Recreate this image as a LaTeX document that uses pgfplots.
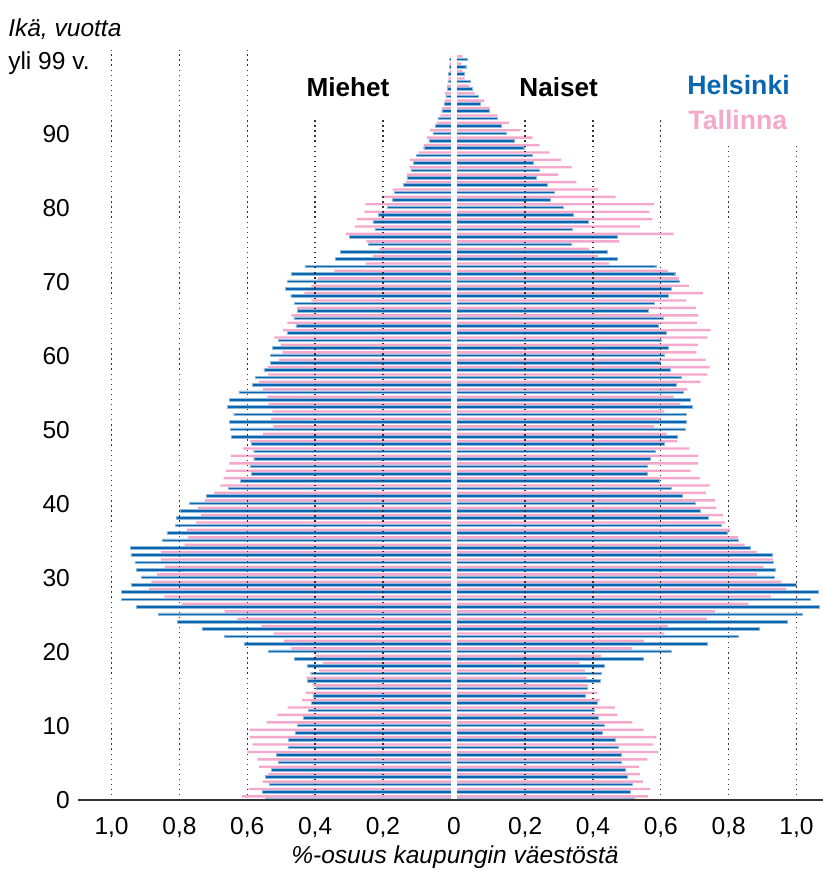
\documentclass[border=0pt]{standalone}
\usepackage{fontspec}
\setmainfont{Liberation Sans}
\usepackage{pgfplots}
\pgfplotsset{compat=1.18}
\usepackage{pgfplotstable}
\definecolor{hel}{HTML}{0A66B0}
\definecolor{tal}{HTML}{F4A8CB}
\definecolor{gridc}{HTML}{333333}

% Helsinki: m = men (left), f = women (right), % of city population
\pgfplotstableread{
age m f
0 0.546 0.522
1 0.557 0.509
2 0.535 0.515
3 0.546 0.501
4 0.530 0.495
5 0.509 0.482
6 0.515 0.482
7 0.480 0.474
8 0.478 0.465
9 0.458 0.427
10 0.453 0.432
11 0.435 0.416
12 0.421 0.404
13 0.411 0.412
14 0.407 0.377
15 0.398 0.383
16 0.423 0.421
17 0.413 0.424
18 0.424 0.432
19 0.461 0.547
20 0.537 0.630
21 0.610 0.736
22 0.667 0.827
23 0.734 0.889
24 0.806 0.972
25 0.863 1.018
26 0.927 1.068
27 0.972 1.041
28 0.972 1.065
29 0.942 1.000
30 0.913 0.934
31 0.927 0.938
32 0.931 0.932
33 0.943 0.927
34 0.944 0.864
35 0.852 0.829
36 0.837 0.797
37 0.813 0.778
38 0.810 0.740
39 0.799 0.717
40 0.770 0.701
41 0.722 0.663
42 0.656 0.630
43 0.620 0.595
44 0.588 0.560
45 0.592 0.561
46 0.581 0.570
47 0.581 0.584
48 0.589 0.611
49 0.646 0.648
50 0.650 0.671
51 0.652 0.675
52 0.640 0.675
53 0.659 0.692
54 0.653 0.686
55 0.625 0.667
56 0.585 0.645
57 0.576 0.661
58 0.551 0.627
59 0.533 0.599
60 0.531 0.610
61 0.527 0.621
62 0.509 0.600
63 0.482 0.615
64 0.457 0.592
65 0.463 0.606
66 0.453 0.564
67 0.461 0.580
68 0.472 0.621
69 0.488 0.630
70 0.482 0.653
71 0.470 0.641
72 0.430 0.585
73 0.340 0.472
74 0.325 0.442
75 0.243 0.336
76 0.299 0.472
77 0.224 0.339
78 0.230 0.386
79 0.213 0.343
80 0.187 0.312
81 0.172 0.275
82 0.167 0.285
83 0.141 0.264
84 0.130 0.234
85 0.118 0.243
86 0.111 0.225
87 0.102 0.222
88 0.080 0.196
89 0.065 0.169
90 0.053 0.144
91 0.045 0.129
92 0.038 0.119
93 0.027 0.093
94 0.020 0.069
95 0.015 0.061
96 0.011 0.045
97 0.009 0.038
98 0.007 0.020
99 0.004 0.025
100 0.004 0.030
}\heltab

% Tallinna
\pgfplotstableread{
age m f
0 0.615 0.562
1 0.596 0.568
2 0.554 0.547
3 0.538 0.538
4 0.565 0.535
5 0.570 0.560
6 0.600 0.592
7 0.584 0.577
8 0.593 0.587
9 0.593 0.549
10 0.543 0.516
11 0.511 0.472
12 0.481 0.465
13 0.438 0.420
14 0.428 0.413
15 0.407 0.386
16 0.425 0.381
17 0.389 0.377
18 0.378 0.360
19 0.400 0.424
20 0.470 0.515
21 0.492 0.550
22 0.522 0.610
23 0.558 0.621
24 0.629 0.736
25 0.667 0.759
26 0.793 0.858
27 0.844 0.924
28 0.890 0.969
29 0.883 0.955
30 0.866 0.883
31 0.843 0.902
32 0.855 0.930
33 0.855 0.882
34 0.785 0.847
35 0.775 0.827
36 0.778 0.805
37 0.751 0.789
38 0.737 0.783
39 0.745 0.764
40 0.725 0.759
41 0.698 0.733
42 0.679 0.744
43 0.670 0.715
44 0.663 0.688
45 0.653 0.709
46 0.648 0.711
47 0.614 0.684
48 0.592 0.648
49 0.554 0.617
50 0.523 0.580
51 0.530 0.600
52 0.526 0.610
53 0.537 0.657
54 0.541 0.638
55 0.553 0.678
56 0.566 0.717
57 0.538 0.737
58 0.539 0.744
59 0.507 0.732
60 0.496 0.705
61 0.501 0.709
62 0.520 0.738
63 0.495 0.747
64 0.482 0.706
65 0.470 0.711
66 0.454 0.703
67 0.411 0.675
68 0.432 0.725
69 0.411 0.683
70 0.393 0.654
71 0.343 0.621
72 0.251 0.447
73 0.229 0.415
74 0.211 0.389
75 0.249 0.478
76 0.309 0.638
77 0.283 0.538
78 0.278 0.575
79 0.255 0.566
80 0.252 0.580
81 0.198 0.467
82 0.172 0.415
83 0.133 0.351
84 0.130 0.298
85 0.122 0.337
86 0.121 0.306
87 0.095 0.272
88 0.080 0.243
89 0.070 0.222
90 0.062 0.187
91 0.041 0.152
92 0.031 0.119
93 0.026 0.096
94 0.018 0.080
95 0.018 0.051
96 0.011 0.035
97 0.007 0.022
98 0.004 0.015
99 0.003 0.012
100 0.001 0.015
}\taltab

\begin{document}
\begin{tikzpicture}
\path[use as bounding box] (0pt,0pt) rectangle (617.25pt,655.5pt);
\begin{axis}[
  at={(58.575pt,55.125pt)}, anchor=south west,
  scale only axis, width=558.7pt, height=566.7pt,
  xmin=-1.108, xmax=1.0875, ymin=0, ymax=102.1,
  clip=false,
  axis line style={draw=none},
  major tick length=0pt,
  xtick={-1.0094,-0.8094,-0.6094,-0.4094,-0.2094,0,0.2094,0.4094,0.6094,0.8094,1.0094},
  xticklabels={{1,0},{0,8},{0,6},{0,4},{0,2},0,{0,2},{0,4},{0,6},{0,8},{1,0}},
  ytick={0,10,...,90},
  yticklabels={0,10,20,30,40,50,60,70,80,90},
  xticklabel style={font=\fontsize{18.4}{20}\selectfont, anchor=base, inner sep=0pt, yshift=-25.5pt},
  yticklabel style={font=\fontsize{18.4}{20}\selectfont, anchor=base east, inner sep=0pt, xshift=-6pt, yshift=-6.2pt},
]
% Tallinna bars (pink), slightly above
\addplot[xbar, bar shift=0pt, bar width=1.8pt, fill=tal, draw=none]
  table[x expr={-(\thisrow{m}+0.0094)}, y expr={\thisrow{age}+0.56}] {\taltab};
\addplot[xbar, bar shift=0pt, bar width=1.8pt, fill=tal, draw=none]
  table[x expr={\thisrow{f}+0.0094}, y expr={\thisrow{age}+0.56}] {\taltab};
% Helsinki bars (blue)
\addplot[xbar, bar shift=0pt, bar width=1.9pt, fill=hel, draw=hel!45, line width=0.3pt]
  table[x expr={-(\thisrow{m}+0.0094)}, y expr={\thisrow{age}+0.18}] {\heltab};
\addplot[xbar, bar shift=0pt, bar width=1.9pt, fill=hel, draw=hel!45, line width=0.3pt]
  table[x expr={\thisrow{f}+0.0094}, y expr={\thisrow{age}+0.18}] {\heltab};
% central gap
\fill[white] (axis cs:-0.0094,0.03) rectangle (axis cs:0.0094,102);
% dotted gridlines
\tikzset{gl/.style={gridc, line width=1pt, dash pattern=on 1pt off 2.8pt}}
\draw[gl] (axis cs:-1.0094,0) -- (axis cs:-1.0094,101.4);
\draw[gl] (axis cs:-0.8094,0) -- (axis cs:-0.8094,101.4);
\draw[gl] (axis cs:-0.6094,0) -- (axis cs:-0.6094,101.4);
\draw[gl] (axis cs:-0.4094,0) -- (axis cs:-0.4094,92.4);
\draw[gl] (axis cs:-0.2094,0) -- (axis cs:-0.2094,92.4);
\draw[gl] (axis cs:0.2094,0) -- (axis cs:0.2094,92.4);
\draw[gl] (axis cs:0.4094,0) -- (axis cs:0.4094,92.4);
\draw[gl] (axis cs:0.6094,0) -- (axis cs:0.6094,92.4);
\draw[gl] (axis cs:0.8094,0) -- (axis cs:0.8094,88.9);
\draw[gl] (axis cs:1.0094,0) -- (axis cs:1.0094,88.9);
% baseline
\draw[gridc, line width=1.5pt] (axis cs:-1.108,0) -- (axis cs:1.0875,0);
\end{axis}
% texts (positions in reference pixels, 1px = 0.75pt, y from top)
\node[anchor=base west, inner sep=0pt, font=\fontsize{18.4}{20}\selectfont\itshape] at ({8*0.75pt},{(874-36.5)*0.75pt}) {Ikä, vuotta};
\node[anchor=base west, inner sep=0pt, font=\fontsize{18.4}{20}\selectfont] at ({8*0.75pt},{(874-70)*0.75pt}) {yli 99 v.};
\node[anchor=base, inner sep=0pt, font=\fontsize{19.6}{22}\selectfont\bfseries] at ({348*0.75pt},{(874-96.3)*0.75pt}) {Miehet};
\node[anchor=base, inner sep=0pt, font=\fontsize{19.6}{22}\selectfont\bfseries] at ({558.6*0.75pt},{(874-96.3)*0.75pt}) {Naiset};
\node[anchor=base east, inner sep=0pt, text=hel, font=\fontsize{20}{22}\selectfont\bfseries] at ({790*0.75pt},{(874-94.5)*0.75pt}) {Helsinki};
\node[anchor=base east, inner sep=0pt, text=tal, font=\fontsize{20}{22}\selectfont\bfseries] at ({787.5*0.75pt},{(874-129.5)*0.75pt}) {Tallinna};
\node[anchor=base, inner sep=0pt, font=\fontsize{18.4}{20}\selectfont\itshape] at ({455*0.75pt},{(874-864)*0.75pt}) {\%-osuus kaupungin väestöstä};
\end{tikzpicture}
\end{document}
